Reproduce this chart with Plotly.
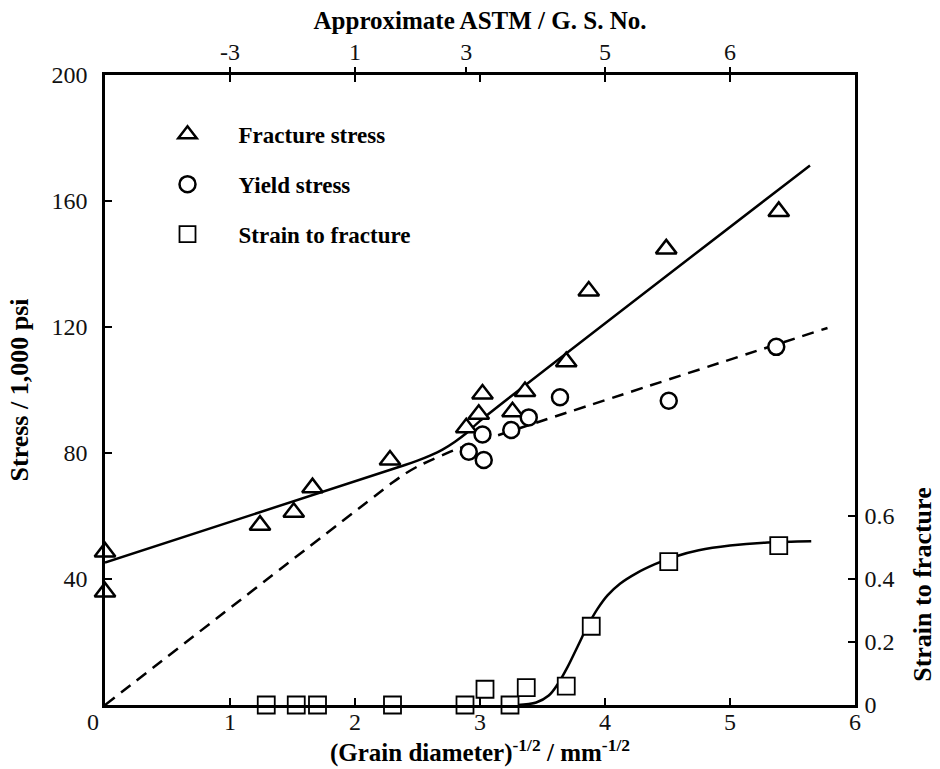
import plotly.graph_objects as go

# ---- data ----
frac_x = [0.0, 0.0, 1.24, 1.51, 1.66, 2.28, 2.89, 2.99, 3.02, 3.26, 3.36, 3.69, 3.87, 4.49, 5.39]
frac_y = [48.6, 35.9, 57.1, 61.2, 69.0, 77.8, 88.0, 92.3, 98.7, 93.1, 99.5, 109.0, 131.4, 144.8, 156.7]

yield_x = [2.91, 3.03, 3.02, 3.25, 3.39, 3.64, 4.51, 5.37]
yield_y = [80.4, 77.8, 85.9, 87.3, 91.3, 97.7, 96.6, 113.7]

strain_x = [1.29, 1.53, 1.70, 2.30, 2.88, 3.04, 3.24, 3.37, 3.69, 3.89, 4.51, 5.39]
strain_y = [0.0, 0.0, 0.0, 0.0, 0.0, 0.05, 0.0, 0.055, 0.06, 0.25, 0.455, 0.506]

# fitted curves (as drawn in the reference)
frac_fit_x = [0.0, 2.4, 2.5, 2.6, 2.7, 2.8, 2.9, 3.0, 5.64]
frac_fit_y = [45.2, 76.2, 77.6, 79.2, 81.1, 83.6, 86.6, 90.2, 171.3]

yield_fit_x = [0.0, 2.3, 2.4, 2.5, 2.6, 2.7, 2.8, 5.78]
yield_fit_y = [0.0, 70.6, 73.4, 75.7, 77.6, 79.3, 81.0, 119.7]

strain_fit_x = [3.3, 3.45, 3.55, 3.62, 3.7, 3.78, 3.86, 3.94, 4.02, 4.12, 4.25, 4.4, 4.55, 4.75, 5.0, 5.3, 5.65]
strain_fit_y = [0.0, 0.008, 0.03, 0.065, 0.12, 0.185, 0.25, 0.305, 0.348, 0.385, 0.418, 0.447, 0.47, 0.491, 0.506, 0.516, 0.52]

x_ticks = [0, 1, 2, 3, 4, 5, 6]
x_labels = ["0\u2002\u2002", "1", "2", "3", "4", "5", "6"]
y_ticks = [40, 80, 120, 160, 200]
y2_ticks = [0, 0.2, 0.4, 0.6]
y2_labels = ["0", "0.2", "0.4", "0.6"]
astm_pos = [1, 2, 2.89, 4, 5]
astm_labels = ["-3", "1", "3", "5", "6"]

SERIF = "Liberation Serif"
INK = "#111111"

fig = go.Figure()

fig.add_trace(go.Scatter(x=frac_fit_x, y=frac_fit_y, mode="lines",
                         line=dict(color="black", width=2.5, shape="spline", smoothing=0.6),
                         showlegend=False, hoverinfo="skip"))
fig.add_trace(go.Scatter(x=yield_fit_x, y=yield_fit_y, mode="lines",
                         line=dict(color="black", width=2.5, dash="12px,8px", shape="spline", smoothing=0.6),
                         showlegend=False, hoverinfo="skip"))
fig.add_trace(go.Scatter(x=strain_fit_x, y=strain_fit_y, mode="lines", yaxis="y2",
                         line=dict(color="black", width=2.5, shape="spline", smoothing=1.0),
                         showlegend=False, hoverinfo="skip"))

fig.add_trace(go.Scatter(x=frac_x, y=frac_y, mode="markers", name="<b>Fracture stress</b>",
                         legendgroup="a", cliponaxis=False,
                         marker=dict(symbol="triangle-up", size=18, color="white",
                                     line=dict(color="black", width=2.5))))
fig.add_trace(go.Scatter(x=yield_x, y=yield_y, mode="markers", name="<b>Yield stress</b>",
                         legendgroup="b", cliponaxis=False,
                         marker=dict(symbol="circle", size=16, color="white",
                                     line=dict(color="black", width=2.5))))
fig.add_trace(go.Scatter(x=strain_x, y=strain_y, mode="markers", name="<b>Strain to fracture</b>",
                         legendgroup="c", yaxis="y2", cliponaxis=False,
                         marker=dict(symbol="square", size=17, color="white",
                                     line=dict(color="black", width=1.8))))
# carrier for the top axis (invisible)
fig.add_trace(go.Scatter(x=[0, 6], y=[0, 0], xaxis="x2", mode="markers",
                         marker=dict(opacity=0), showlegend=False, hoverinfo="skip"))

tickfont = dict(family=SERIF, size=24, color=INK)

fig.update_layout(
    width=940, height=769,
    margin=dict(l=105, r=85, t=75, b=64),
    paper_bgcolor="white", plot_bgcolor="white",
    showlegend=True,
    legend=dict(x=0.042, y=0.94, xanchor="left", yanchor="top",
                font=dict(family=SERIF, size=23, color="black"),
                bgcolor="rgba(0,0,0,0)", tracegroupgap=17, itemwidth=92),
    xaxis=dict(range=[0, 6], tickvals=x_ticks, ticktext=x_labels, ticks="inside", ticklen=7, tickwidth=2,
               tickcolor="black", showline=True, linecolor="black", linewidth=2.5,
               mirror="ticks", showgrid=False, zeroline=False, tickfont=tickfont,
               ticklabelstandoff=-7, automargin=False,
               title=dict(text="<b>(Grain diameter)<sup>-1/2</sup> / mm<sup>-1/2</sup></b>",
                          font=dict(family=SERIF, size=25, color="black"), standoff=0)),
    xaxis2=dict(range=[0, 6], overlaying="x", side="top", tickvals=astm_pos, ticktext=astm_labels,
                ticks="outside", ticklen=7, tickwidth=2, tickcolor="black", automargin=False,
                ticklabelstandoff=-3,
                showline=False, showgrid=False, zeroline=False, tickfont=tickfont,
                title=dict(text="<b>Approximate ASTM / G. S. No.</b>",
                           font=dict(family=SERIF, size=25, color="black"), standoff=2)),
    yaxis=dict(range=[0, 200], tickvals=y_ticks, ticks="inside", ticklen=7, tickwidth=2,
               tickcolor="black", showline=True, linecolor="black", linewidth=2.5,
               showgrid=False, zeroline=False, tickfont=tickfont, ticklabelstandoff=10,
               automargin=False,
               title=dict(text="<b>Stress / 1,000 psi</b>",
                          font=dict(family=SERIF, size=26, color="black"), standoff=16)),
    yaxis2=dict(range=[0, 2], overlaying="y", side="right", tickvals=y2_ticks,
                ticktext=y2_labels, ticks="inside", ticklen=7, tickwidth=2,
                tickcolor="black", showline=True, linecolor="black", linewidth=2.5,
                showgrid=False, zeroline=False, tickfont=tickfont, ticklabelstandoff=2,
                automargin=False),
)

fig.add_annotation(text="<b>Strain to fracture</b>", xref="paper", yref="paper",
                   x=1.09, y=0.19, xanchor="center", yanchor="middle",
                   textangle=-90, showarrow=False,
                   font=dict(family=SERIF, size=26, color="black"))

fig.write_html("out.html")
